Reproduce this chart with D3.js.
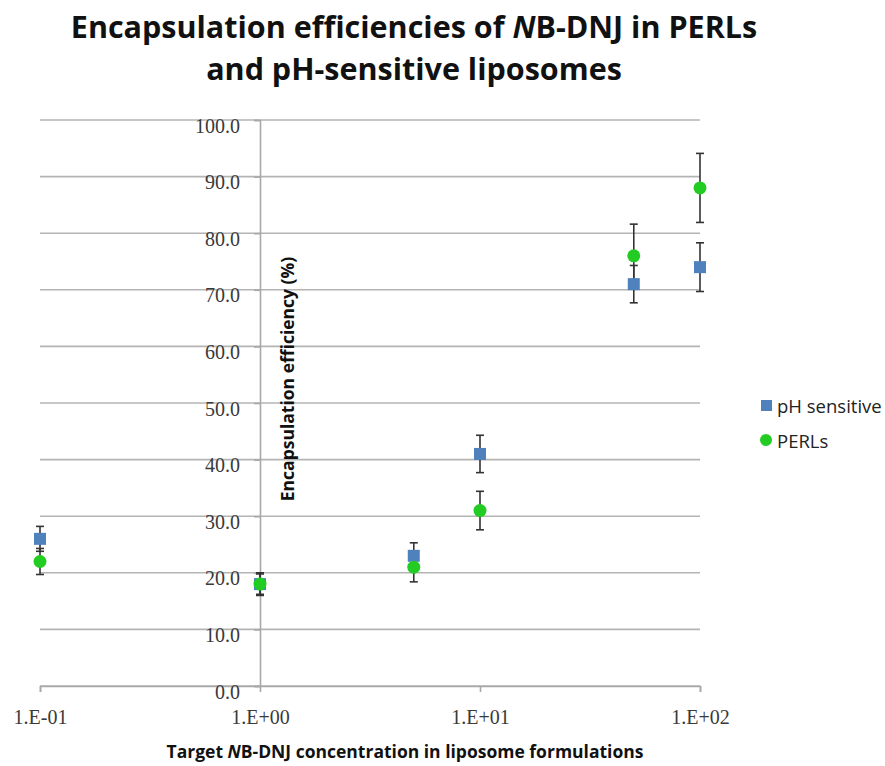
<!DOCTYPE html>
<html>
<head>
<meta charset="utf-8">
<script src="https://cdn.jsdelivr.net/npm/d3@7"></script>
<style>
  body { margin: 0; background: #fff; }
</style>
</head>
<body>
<div id="chart"></div>
<script>
/* Encapsulation efficiencies scatter with error bars */

const concentrations = [0.1, 1, 5, 10, 50, 100];
const phValues = [26, 18, 23, 41, 71, 74];
const phErrors = [2.2, 1.8, 2.3, 3.3, 3.3, 4.3];
const perlValues = [22, 18, 21, 31, 76, 88];
const perlErrors = [2.3, 2.0, 2.6, 3.4, 5.6, 6.1];
const xTicks = [0.1, 1, 10, 100];
const xTickLabels = ["1.E-01", "1.E+00", "1.E+01", "1.E+02"];
const yTicks = [0, 10, 20, 30, 40, 50, 60, 70, 80, 90, 100];

const width = 885,
      height = 766,
      margin = ({top: 120, right: 185, bottom: 80, left: 40});

const serif = "'Liberation Serif', 'Times New Roman', serif",
      sans = "'Open Sans', sans-serif";

const svg = d3.select("#chart")
    .append("svg")
    .attr("width", width)
    .attr("height", height);

const x = d3.scaleLog()
    .domain([0.1, 100])
    .range([margin.left, width - margin.right]);

const y = d3.scaleLinear()
    .domain([0, 100])
    .range([height - margin.bottom, margin.top]);

// gridlines
svg.append("g")
    .selectAll("line")
    .data(yTicks)
    .join("line")
    .attr("x1", x(0.1))
    .attr("x2", x(100))
    .attr("y1", d => y(d))
    .attr("y2", d => y(d))
    .attr("stroke", "#b4b4b4")
    .attr("stroke-width", 1.6);

// y axis crosses at x = 1
const yAxis = g => g
    .attr("transform", `translate(${x(1)},0)`)
    .call(d3.axisLeft(y).tickValues(yTicks).tickFormat(d3.format(".1f")).tickSize(6).tickPadding(14))
    .call(g => g.select(".domain").attr("stroke", "#a8a8a8").attr("stroke-width", 1.6))
    .call(g => g.selectAll(".tick line").attr("stroke", "#a8a8a8").attr("stroke-width", 1.6))
    .call(g => g.selectAll(".tick text")
        .style("font-family", serif)
        .style("font-size", "20px")
        .attr("fill", "#3a3a3a")
        .attr("dy", "0.6em"));

const xAxis = g => g
    .attr("transform", `translate(0,${y(0)})`)
    .call(d3.axisBottom(x).tickValues(xTicks).tickFormat((d, i) => xTickLabels[i]).tickSize(6).tickPadding(18))
    .call(g => g.select(".domain").attr("stroke", "#a8a8a8").attr("stroke-width", 1.6))
    .call(g => g.selectAll(".tick line").attr("stroke", "#a8a8a8").attr("stroke-width", 1.6))
    .call(g => g.selectAll(".tick text")
        .style("font-family", serif)
        .style("font-size", "20px")
        .attr("fill", "#3a3a3a"));

svg.append("g").call(xAxis);
svg.append("g").call(yAxis);

// series
const series = [
    {name: "pH sensitive", values: phValues, errors: phErrors, color: "#4f81bd", shape: "square"},
    {name: "PERLs", values: perlValues, errors: perlErrors, color: "#22cc22", shape: "circle"}
];

for (let s of series) {
    const pts = concentrations.map((c, i) => ({c: c, v: s.values[i], e: s.errors[i]}));

    let eb = svg.append("g")
        .selectAll("g")
        .data(pts)
        .join("g")
        .attr("stroke", "#333")
        .attr("stroke-width", 1.6);

    eb.append("line")
        .attr("x1", d => x(d.c)).attr("x2", d => x(d.c))
        .attr("y1", d => y(d.v + d.e)).attr("y2", d => y(d.v - d.e));
    eb.append("line")
        .attr("x1", d => x(d.c) - 4).attr("x2", d => x(d.c) + 4)
        .attr("y1", d => y(d.v + d.e)).attr("y2", d => y(d.v + d.e));
    eb.append("line")
        .attr("x1", d => x(d.c) - 4).attr("x2", d => x(d.c) + 4)
        .attr("y1", d => y(d.v - d.e)).attr("y2", d => y(d.v - d.e));
}

for (let s of series) {
    const pts = concentrations.map((c, i) => ({c: c, v: s.values[i]}));
    if (s.shape === "square") {
        svg.append("g").selectAll("rect")
            .data(pts)
            .join("rect")
            .attr("x", d => x(d.c) - 6)
            .attr("y", d => y(d.v) - 6)
            .attr("width", 12)
            .attr("height", 12)
            .attr("fill", s.color);
    } else {
        svg.append("g").selectAll("circle")
            .data(pts)
            .join("circle")
            .attr("cx", d => x(d.c))
            .attr("cy", d => y(d.v))
            .attr("r", 6.5)
            .attr("fill", s.color);
    }
}

// legend
const legend = svg.append("g")
    .style("font-family", sans)
    .style("font-size", "18.5px")
    .attr("fill", "#222");

legend.append("rect")
    .attr("x", 761).attr("y", 400).attr("width", 11).attr("height", 11)
    .attr("fill", series[0].color);
legend.append("text")
    .attr("x", 777).attr("y", 413)
    .text(series[0].name);
legend.append("circle")
    .attr("cx", 766).attr("cy", 440).attr("r", 6)
    .attr("fill", series[1].color);
legend.append("text")
    .attr("x", 777).attr("y", 448)
    .text(series[1].name);

// titles
const title = svg.append("text")
    .attr("text-anchor", "middle")
    .style("font-family", sans)
    .style("font-weight", "bold")
    .style("font-size", "30.5px")
    .attr("fill", "#111");

let t1 = title.append("tspan").attr("x", 414).attr("y", 38);
t1.append("tspan").text("Encapsulation efficiencies of ");
t1.append("tspan").style("font-style", "italic").text("N");
t1.append("tspan").text("B-DNJ in PERLs");
title.append("tspan").attr("x", 414).attr("y", 80).text("and pH-sensitive liposomes");

let xt = svg.append("text")
    .attr("x", 405).attr("y", 758)
    .attr("text-anchor", "middle")
    .style("font-family", sans)
    .style("font-weight", "bold")
    .style("font-size", "17.5px")
    .attr("fill", "#111");
xt.append("tspan").text("Target ");
xt.append("tspan").style("font-style", "italic").text("N");
xt.append("tspan").text("B-DNJ concentration in liposome formulations");

svg.append("text")
    .attr("transform", `translate(294,379) rotate(-90)`)
    .attr("text-anchor", "middle")
    .style("font-family", sans)
    .style("font-weight", "bold")
    .style("font-size", "17.5px")
    .attr("fill", "#111")
    .text("Encapsulation efficiency (%)");
</script>
</body>
</html>
